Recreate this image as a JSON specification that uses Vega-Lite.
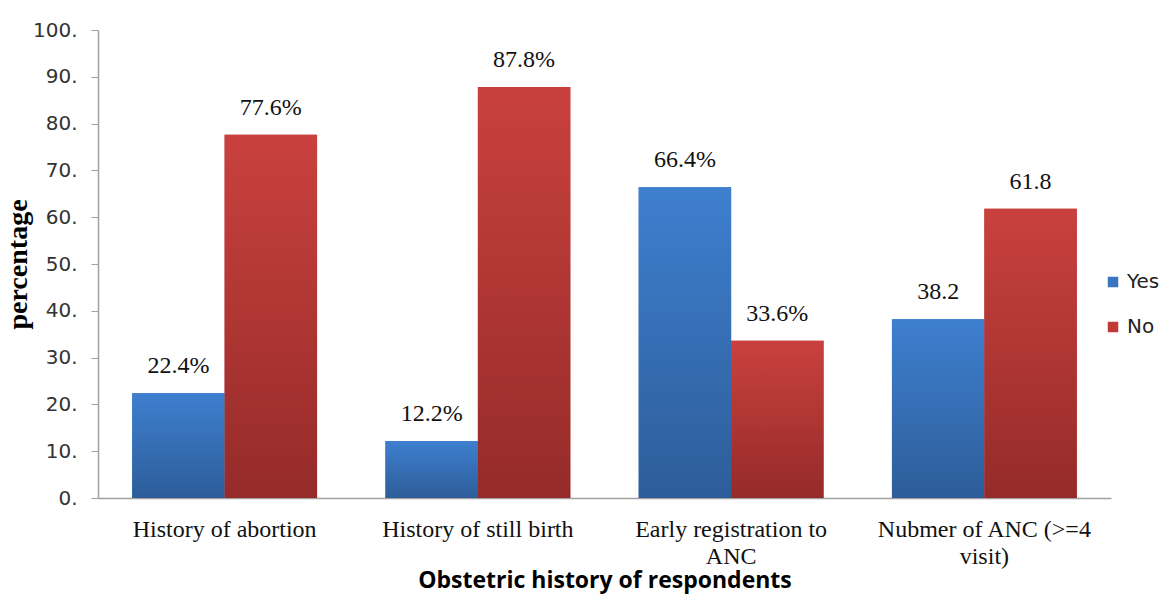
{
  "$schema": "https://vega.github.io/schema/vega-lite/v6.json",
  "autosize": "none",
  "width": 1013,
  "height": 468,
  "padding": {"left": 98, "top": 30, "right": 54, "bottom": 101},
  "background": "white",
  "config": {"view": {"stroke": null}},
  "data": {
    "values": [
      {"category": "History of abortion", "answer": "Yes", "percent": 22.4, "label": "22.4%"},
      {"category": "History of abortion", "answer": "No", "percent": 77.6, "label": "77.6%"},
      {"category": "History of still birth", "answer": "Yes", "percent": 12.2, "label": "12.2%"},
      {"category": "History of still birth", "answer": "No", "percent": 87.8, "label": "87.8%"},
      {"category": "Early registration to ANC", "answer": "Yes", "percent": 66.4, "label": "66.4%"},
      {"category": "Early registration to ANC", "answer": "No", "percent": 33.6, "label": "33.6%"},
      {"category": "Nubmer of ANC (>=4 visit)", "answer": "Yes", "percent": 38.2, "label": "38.2"},
      {"category": "Nubmer of ANC (>=4 visit)", "answer": "No", "percent": 61.8, "label": "61.8"}
    ]
  },
  "encoding": {
    "x": {
      "field": "category",
      "type": "nominal",
      "sort": null,
      "scale": {"paddingInner": 0.27, "paddingOuter": 0.135},
      "axis": {
        "title": "Obstetric history of respondents",
        "titleFont": "Open Sans",
        "titleFontSize": 23,
        "titleFontWeight": "bold",
        "titleColor": "#000000",
        "titlePadding": 1,
        "labelAngle": 0,
        "labelFont": "Liberation Serif",
        "labelFontSize": 24,
        "labelColor": "#111111",
        "labelPadding": 19,
        "labelLineHeight": 27,
        "labelBaseline": "top",
        "labelLimit": 400,
        "labelExpr": "datum.label == 'Early registration to ANC' ? ['Early registration to', 'ANC'] : datum.label == 'Nubmer of ANC (>=4 visit)' ? ['Nubmer of ANC (>=4', 'visit)'] : datum.label",
        "ticks": false,
        "domainColor": "#a0a0a0",
        "domainWidth": 1.5
      }
    },
    "xOffset": {"field": "answer", "type": "nominal", "scale": {"domain": ["Yes", "No"], "paddingInner": 0}},
    "y": {
      "field": "percent",
      "type": "quantitative",
      "scale": {"domain": [0, 100]},
      "axis": {
        "title": "percentage",
        "titleFont": "Liberation Serif",
        "titleFontSize": 28,
        "titleFontWeight": "bold",
        "titleColor": "#000000",
        "titlePadding": 0,
        "values": [0, 10, 20, 30, 40, 50, 60, 70, 80, 90, 100],
        "labelExpr": "datum.value + '.'",
        "labelFont": "DejaVu Sans",
        "labelFontSize": 20,
        "labelColor": "#333333",
        "labelPadding": 14,
        "grid": false,
        "tickColor": "#a0a0a0",
        "tickSize": 7,
        "domainColor": "#a0a0a0",
        "domainWidth": 1.5
      }
    }
  },
  "layer": [
    {
      "mark": {"type": "bar"},
      "encoding": {
        "color": {
          "field": "answer",
          "type": "nominal",
          "sort": ["Yes", "No"],
          "scale": {"domain": ["Yes", "No"], "range": ["#3b74bf", "#c13a38"]},
          "legend": {
            "title": null,
            "orient": "none",
            "legendX": 1005,
            "legendY": 242,
            "symbolType": "square",
            "symbolSize": 110,
            "symbolStrokeWidth": 0,
            "labelFont": "DejaVu Sans",
            "labelFontSize": 20,
            "labelColor": "#222222",
            "rowPadding": 25,
            "labelOffset": 4
          }
        }
      }
    },
    {
      "transform": [{"filter": "datum.answer == 'Yes'"}],
      "mark": {
        "type": "bar",
        "color": {
          "gradient": "linear", "x1": 0, "y1": 0, "x2": 0, "y2": 1,
          "stops": [{"offset": 0, "color": "#3e7fcf"}, {"offset": 1, "color": "#2d5d99"}]
        }
      }
    },
    {
      "transform": [{"filter": "datum.answer == 'No'"}],
      "mark": {
        "type": "bar",
        "color": {
          "gradient": "linear", "x1": 0, "y1": 0, "x2": 0, "y2": 1,
          "stops": [{"offset": 0, "color": "#c9413e"}, {"offset": 1, "color": "#952b29"}]
        }
      }
    },
    {
      "mark": {"type": "text", "baseline": "middle", "dy": -27, "font": "Liberation Serif", "fontSize": 24, "color": "#111111"},
      "encoding": {"text": {"field": "label"}}
    }
  ]
}
